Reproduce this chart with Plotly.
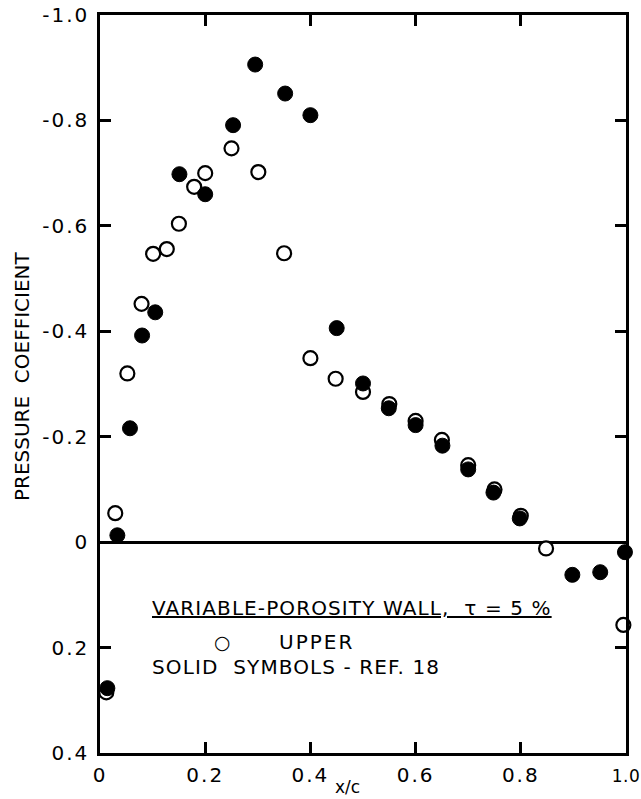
import plotly.graph_objects as go

# Open symbols: variable-porosity wall, upper surface
upper_x = [0.012, 0.029, 0.052, 0.079, 0.101, 0.127, 0.150, 0.179, 0.200, 0.250,
           0.301, 0.350, 0.400, 0.448, 0.500, 0.550, 0.600, 0.650, 0.700, 0.750,
           0.800, 0.848, 0.995]
upper_cp = [0.285, -0.055, -0.320, -0.452, -0.547, -0.556, -0.604, -0.674, -0.700, -0.747,
            -0.702, -0.548, -0.349, -0.310, -0.285, -0.262, -0.230, -0.194, -0.146, -0.100,
            -0.050, 0.012, 0.157]

# Solid symbols: Ref. 18
ref_x = [0.014, 0.033, 0.057, 0.080, 0.105, 0.151, 0.200, 0.253, 0.295, 0.352,
         0.400, 0.450, 0.500, 0.549, 0.600, 0.651, 0.700, 0.748, 0.798, 0.898,
         0.951, 0.998]
ref_cp = [0.277, -0.013, -0.216, -0.392, -0.436, -0.698, -0.660, -0.791, -0.906, -0.851,
          -0.810, -0.406, -0.301, -0.254, -0.222, -0.183, -0.138, -0.094, -0.045, 0.062,
          0.057, 0.019]

x_ticks = [0, 0.2, 0.4, 0.6, 0.8, 1.0]
x_ticktext = ["0", "0.2", "0.4", "0.6", "0.8", "1.0"]
y_ticks = [-1.0, -0.8, -0.6, -0.4, -0.2, 0, 0.2, 0.4]
y_ticktext = ["-1.0", "-0.8", "-0.6", "-0.4", "-0.2", "0", "0.2", "0.4"]

FONT = "DejaVu Sans"


def spaced(s, px=1.5):
    return f"<span style='letter-spacing:{px}px'>{s}</span>"


x_labels = [spaced(t, 2) for t in x_ticktext[:-1]]
x_labels.append(f"<span style='font-size:17px;letter-spacing:0.5px'>{x_ticktext[-1]}</span>")

fig = go.Figure()
fig.add_trace(go.Scatter(
    x=upper_x, y=upper_cp, mode="markers", name="UPPER",
    marker=dict(symbol="circle", size=14, color="white",
                line=dict(color="black", width=2.2)),
    cliponaxis=False,
))
fig.add_trace(go.Scatter(
    x=ref_x, y=ref_cp, mode="markers", name="REF. 18",
    marker=dict(symbol="circle", size=15, color="black",
                line=dict(color="black", width=1)),
    cliponaxis=False,
))

fig.update_layout(
    width=641, height=799,
    margin=dict(l=100, r=15, t=15, b=46),
    paper_bgcolor="white", plot_bgcolor="white",
    showlegend=False,
    font=dict(family=FONT, color="black", size=19),
    xaxis=dict(
        range=[0, 1.0], tickvals=x_ticks, ticktext=x_labels,
        ticks="inside", ticklen=11, tickwidth=2.5, tickcolor="black",
        showline=True, linewidth=2.5, linecolor="black", mirror="ticks",
        showgrid=False, zeroline=False, automargin=False,
        ticklabeloverflow="allow",
        tickfont=dict(family=FONT, size=20), ticklabelstandoff=2,
    ),
    yaxis=dict(
        range=[0.4, -1.0], tickvals=y_ticks,
        ticktext=[spaced(t, 2) for t in y_ticktext],
        ticks="inside", ticklen=11, tickwidth=2.5, tickcolor="black",
        showline=True, linewidth=2.5, linecolor="black", mirror="ticks",
        showgrid=False, zeroline=True, zerolinecolor="black", zerolinewidth=2.5,
        automargin=False, ticklabeloverflow="allow",
        tickfont=dict(family=FONT, size=20), ticklabelstandoff=4,
    ),
    annotations=[
        dict(text="PRESSURE  COEFFICIENT", xref="paper", yref="paper",
             x=-0.148, y=0.511, textangle=-90, showarrow=False,
             font=dict(family=FONT, size=20), xanchor="center", yanchor="middle"),
        dict(text="x/c", xref="paper", yref="paper", x=0.4705, y=-0.046,
             showarrow=False, font=dict(family=FONT, size=17),
             xanchor="center", yanchor="middle"),
        dict(text="<u>" + spaced("VARIABLE-POROSITY WALL,  τ = 5 %", 1.1) + "</u>",
             xref="x", yref="y",
             x=0.095, y=0.125, showarrow=False, xanchor="left", yanchor="middle",
             font=dict(family=FONT, size=20)),
        dict(text="○", xref="x", yref="y", x=0.232, y=0.190, showarrow=False,
             xanchor="center", yanchor="middle", font=dict(family=FONT, size=19)),
        dict(text=spaced("UPPER", 2), xref="x", yref="y", x=0.3365, y=0.190,
             showarrow=False, xanchor="left", yanchor="middle",
             font=dict(family=FONT, size=20)),
        dict(text=spaced("SOLID  SYMBOLS - REF. 18", 1.1), xref="x", yref="y",
             x=0.095, y=0.237, showarrow=False, xanchor="left", yanchor="middle",
             font=dict(family=FONT, size=20)),
    ],
)

fig.write_html("out.html", config={"displayModeBar": False},
               post_script="document.body.style.margin='0';")
